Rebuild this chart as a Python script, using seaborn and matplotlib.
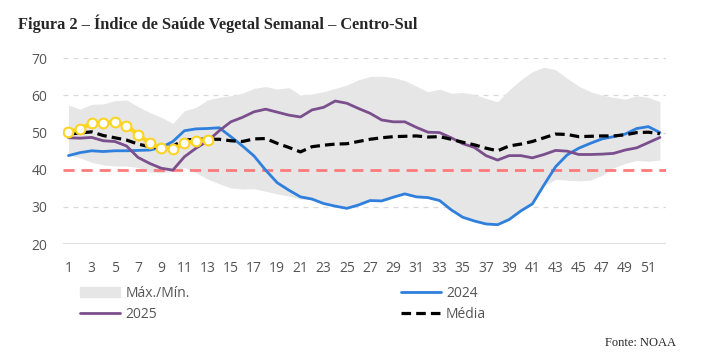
import numpy as np
import pandas as pd
import seaborn as sns
from matplotlib import pyplot as plt
import matplotlib.patches as mpatches
from matplotlib.lines import Line2D

weeks = list(range(1, 53))

band_max = [57.4, 56.3, 57.6, 57.7, 58.6, 58.8, 57.0, 55.4, 54.1, 52.5,
            55.9, 56.8, 58.8, 59.5, 59.9, 60.6, 61.9, 62.4, 61.7, 62.1,
            60.1, 60.4, 61.0, 61.9, 62.8, 64.2, 65.1, 65.2, 64.8, 64.0,
            62.5, 61.0, 61.7, 60.6, 60.8, 60.3, 59.2, 58.3, 61.5, 64.2,
            66.4, 67.6, 66.9, 64.6, 62.5, 61.0, 60.1, 59.5, 59.0, 59.9,
            59.5, 58.3]
band_min = [44.0, 43.2, 42.0, 41.3, 41.0, 41.0, 40.6, 39.4, 39.2, 39.6,
            40.6, 39.2, 37.5, 36.2, 35.1, 34.8, 34.9, 34.2, 33.5, 32.9,
            32.1, 31.9, 30.8, 30.1, 29.5, 30.3, 31.5, 31.4, 32.4, 33.3,
            32.5, 32.2, 31.4, 29.0, 27.0, 26.0, 25.2, 25.0, 26.4, 28.7,
            30.6, 35.7, 37.4, 37.2, 37.0, 37.2, 38.5, 40.5, 41.7, 42.5,
            42.3, 42.6]
y2024 = [43.8, 44.6, 45.1, 44.9, 45.1, 45.1, 45.2, 45.3, 46.0, 47.6,
         50.5, 51.0, 51.1, 51.3, 48.9, 46.4, 43.7, 39.9, 36.5, 34.5,
         32.7, 32.1, 30.9, 30.2, 29.6, 30.5, 31.7, 31.6, 32.6, 33.5,
         32.7, 32.5, 31.7, 29.2, 27.2, 26.2, 25.4, 25.2, 26.6, 28.9,
         30.8, 35.9, 40.8, 44.0, 45.8, 47.1, 48.3, 48.9, 49.6, 51.1,
         51.6, 50.0]
y2025 = [48.6, 48.5, 48.7, 47.8, 47.6, 46.4, 43.3, 41.7, 40.4, 39.9,
         43.5, 45.8, 47.7, 50.5, 52.9, 54.1, 55.6, 56.3, 55.5, 54.7,
         54.2, 56.1, 56.8, 58.5, 57.9, 56.5, 55.2, 53.4, 52.9, 52.9,
         51.4, 50.1, 50.0, 48.6, 47.0, 46.0, 43.8, 42.6, 43.8, 43.8,
         43.2, 44.1, 45.2, 45.0, 44.1, 44.1, 44.2, 44.4, 45.3, 45.9,
         47.3, 48.7]
media = [49.6, 49.9, 50.2, 49.2, 48.6, 48.0, 46.9, 46.2, 45.8, 46.4,
         48.0, 48.2, 48.2, 48.2, 47.8, 47.6, 48.3, 48.4, 47.1, 46.0,
         44.8, 46.2, 46.6, 46.9, 47.0, 47.6, 48.2, 48.6, 48.9, 49.0,
         49.1, 48.8, 48.9, 48.2, 47.4, 46.7, 45.8, 45.1, 46.4, 46.9,
         47.6, 48.6, 49.6, 49.5, 48.9, 49.0, 49.1, 49.1, 49.4, 50.0,
         50.1, 49.7]
weeks_2026 = list(range(1, 14))
y2026 = [50.1, 51.1, 52.5, 52.6, 52.9, 51.9, 49.4, 47.2, 45.8, 45.5,
         47.1, 47.8, 48.0]
limite = 40

df = pd.DataFrame({'Semana': weeks, 'max': band_max, 'min': band_min,
                   '2024': y2024, '2025': y2025, 'Media': media})
df26 = pd.DataFrame({'Semana': weeks_2026, '2026': y2026})

sns.set_style('white')
plt.rcParams['font.family'] = ['Open Sans', 'DejaVu Sans']

fig = plt.figure(figsize=(7.09, 3.59), dpi=100)
ax = fig.add_axes([0.0884, 0.3203, 0.8506, 0.5173])

grid_c = '#d9d9d9'
for v in [30, 50, 60, 70]:
    ax.axhline(v, color=grid_c, lw=0.9, ls=(0, (4, 4)), zorder=0)
ax.axhline(20, color=grid_c, lw=1.2, zorder=0)

ax.fill_between(df['Semana'], df['min'], df['max'], color='#e6e6e6', lw=0, zorder=1)
ax.axhline(limite, color='#ff7b7b', lw=2, ls=(0, (4, 2.5)), zorder=2)

sns.lineplot(x='Semana', y='2024', data=df, color='#2f7fdc', lw=2, ax=ax, zorder=3)
sns.lineplot(x='Semana', y='2025', data=df, color='#7b4f8d', lw=2, ax=ax, zorder=3)
sns.lineplot(x='Semana', y='Media', data=df, color='black', lw=2.3,
             ax=ax, zorder=4, linestyle=(0, (3, 1.6)))
sns.lineplot(x='Semana', y='2026', data=df26, color='#fcd422', lw=3,
             marker='o', markersize=7, markerfacecolor='white',
             markeredgecolor='#fcd422', markeredgewidth=1.5, ax=ax, zorder=5)

ax.set_xlim(0.5, 52.5)
ax.set_ylim(20, 70)
ax.set_xticks(range(1, 52, 2))
ax.set_yticks(range(20, 71, 10))
ax.set_xlabel('')
ax.set_ylabel('')
sns.despine(ax=ax, left=True, bottom=True)
ax.tick_params(axis='both', length=0, labelsize=10, labelcolor='#555555')
ax.tick_params(axis='x', pad=12)
ax.tick_params(axis='y', pad=11)

handles = [mpatches.Patch(color='#e6e6e6', label='Máx./Mín.'),
           Line2D([], [], color='#7b4f8d', lw=2, label='2025'),
           Line2D([], [], color='#2f7fdc', lw=2, label='2024'),
           Line2D([], [], color='black', lw=2.3, ls=(0, (3, 1.6)), label='Média')]
fig.legend(handles=handles, loc='upper left', bbox_to_anchor=(0.1128, 0.204),
           ncol=2, frameon=False, fontsize=10, labelcolor='#555555',
           handlelength=2.9, handletextpad=0.36, columnspacing=15.2,
           labelspacing=0.45, borderpad=0, borderaxespad=0)

fig.text(0.025, 0.935, 'Figura 2 – Índice de Saúde Vegetal Semanal – Centro-Sul',
         family='Liberation Serif', fontweight='bold', fontsize=11.8, va='center')
fig.text(0.953, 0.044, 'Fonte: NOAA', family='Liberation Serif', fontsize=9,
         ha='right', va='center')

fig.savefig('out.png', dpi=100)
